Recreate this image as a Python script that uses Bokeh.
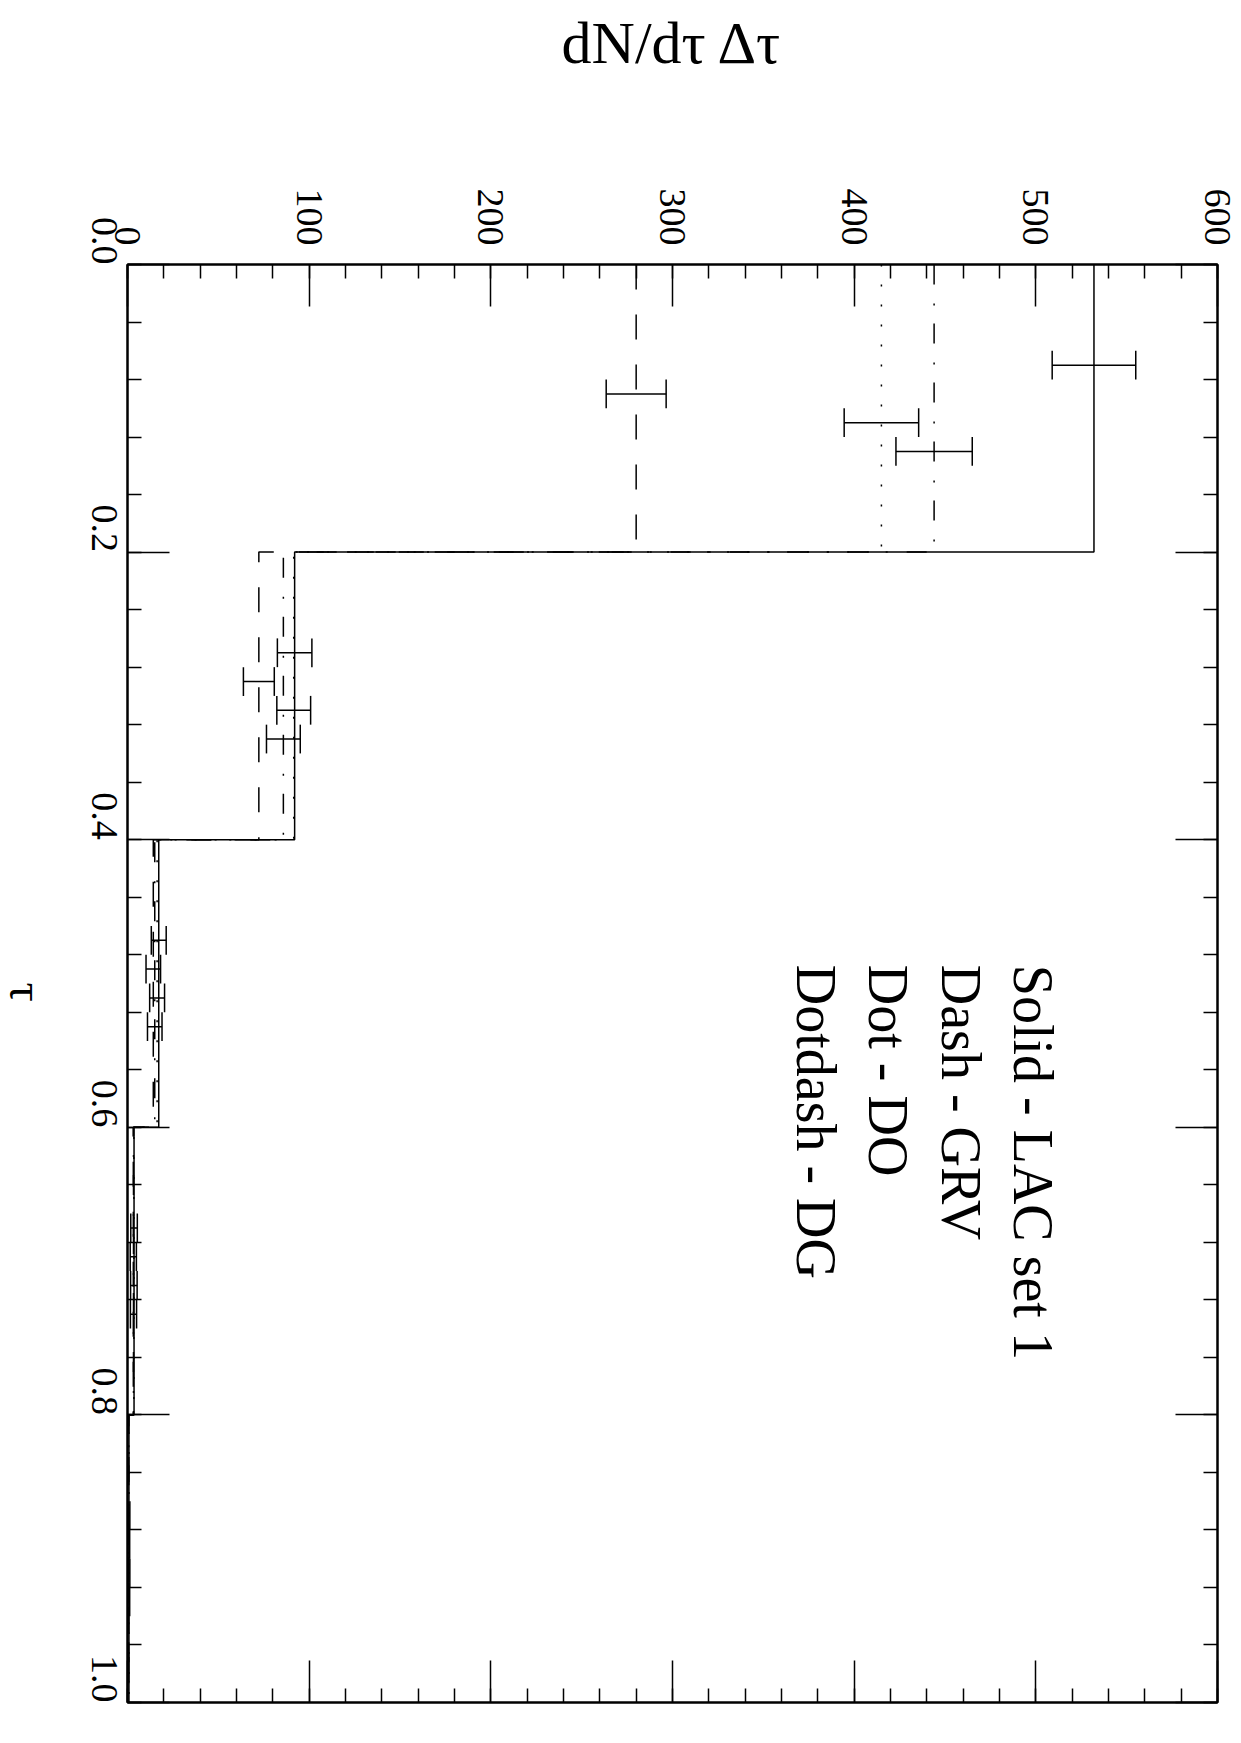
import math

from bokeh.core.properties import value
from bokeh.embed import file_html
from bokeh.layouts import row
from bokeh.models import (CustomJSTickFormatter, LinearAxis, PrintfTickFormatter,
                          Range1d, SingleIntervalTicker)
from bokeh.plotting import figure
from bokeh.resources import INLINE

# tau bins (width 0.2)
bin_edges = [0.0, 0.2, 0.4, 0.6, 0.8, 1.0]

# dN/dtau * dtau per bin for each photon structure function set
lac1 = [532.0, 92.0, 17.2, 3.6, 0.8]
grv = [280.0, 72.3, 14.2, 3.2, 0.7]
do_set = [415.0, 91.5, 16.3, 3.5, 0.8]
dg = [444.0, 85.8, 15.0, 3.3, 0.7]

# statistical errors per bin
lac1_err = [23.0, 9.5, 4.1, 1.8, 0.5]
grv_err = [16.5, 8.5, 4.0, 1.7, 0.5]
do_err = [20.5, 9.3, 4.1, 1.8, 0.5]
dg_err = [21.0, 9.3, 4.0, 1.7, 0.5]

# where inside each bin the error bar of a set is placed
err_offset = [0.07, 0.09, 0.11, 0.13]

legend_lines = ["Solid - LAC set 1", "Dash - GRV", "Dot - DO", "Dotdash - DG"]

x_ticks_interval = 100
y_ticks_interval = 0.2

FONT = "Liberation Serif"
W, H = 1241, 1743
STRIP = 60  # narrow strip on the left holding the tau axis title

p = figure(width=W - STRIP, height=H,
           x_range=Range1d(0, 600), y_range=Range1d(1.0, 0.0),
           x_axis_location="above", y_axis_location="left",
           output_backend="svg", toolbar_location=None,
           min_border_left=127 - STRIP, min_border_right=24,
           min_border_top=264, min_border_bottom=41)
p.xgrid.grid_line_color = None
p.ygrid.grid_line_color = None
p.outline_line_color = "black"
p.outline_line_width = 2
p.background_fill_color = "white"
p.border_fill_color = "white"

xticker = SingleIntervalTicker(interval=x_ticks_interval, num_minor_ticks=5)
yticker = SingleIntervalTicker(interval=y_ticks_interval, num_minor_ticks=5)
blank = CustomJSTickFormatter(code="return ''")


def style_axis(ax):
    ax.axis_line_color = "black"
    ax.axis_line_width = 2
    ax.major_tick_line_color = "black"
    ax.major_tick_line_width = 1.5
    ax.minor_tick_line_color = "black"
    ax.minor_tick_line_width = 1.5
    ax.major_tick_in = 42
    ax.major_tick_out = 0
    ax.minor_tick_in = 14
    ax.minor_tick_out = 0
    ax.major_label_text_font = FONT
    ax.major_label_text_font_size = "38px"
    ax.major_label_text_color = "black"
    ax.axis_label_text_font = FONT
    ax.axis_label_text_font_style = "normal"
    ax.axis_label_text_color = "black"


# top axis: value scale with labels and the quantity name
top = p.xaxis[0]
top.ticker = xticker
top.formatter = PrintfTickFormatter(format="%d")
style_axis(top)
top.major_label_orientation = -math.pi / 2
top.major_label_standoff = 19
top.axis_label = "dN/dτ Δτ"
top.axis_label_text_font_size = "60px"
top.axis_label_standoff = 110

# left axis: tau scale
left = p.yaxis[0]
left.ticker = yticker
left.formatter = PrintfTickFormatter(format="%.1f")
style_axis(left)
left.major_label_orientation = -math.pi / 2
left.major_label_standoff = 23

# mirrored tick marks without labels
bottom = LinearAxis(ticker=xticker, formatter=blank)
style_axis(bottom)
bottom.major_label_standoff = 0
p.add_layout(bottom, "below")

right = LinearAxis(ticker=yticker, formatter=blank)
style_axis(right)
right.major_label_standoff = 0
p.add_layout(right, "right")

series = [
    (lac1, lac1_err, "solid"),
    (grv, grv_err, "25 25"),
    (do_set, do_err, "2 18"),
    (dg, dg_err, "20 19 2 18"),
]

cap_half = 0.01
for k, (vals, errs, dash) in enumerate(series):
    # step histogram
    xs, ys = [], []
    for i, v in enumerate(vals):
        xs += [v, v]
        ys += [bin_edges[i], bin_edges[i + 1]]
    p.line(xs, ys, line_color="black", line_width=1.5, line_dash=dash)

    # error bars
    pos = [bin_edges[i] + err_offset[k] for i in range(len(vals))]
    lo = [v - e for v, e in zip(vals, errs)]
    hi = [v + e for v, e in zip(vals, errs)]
    p.segment(x0=lo, y0=pos, x1=hi, y1=pos, line_color="black", line_width=1.5)
    p.segment(x0=lo, y0=[t - cap_half for t in pos], x1=lo, y1=[t + cap_half for t in pos],
              line_color="black", line_width=1.5)
    p.segment(x0=hi, y0=[t - cap_half for t in pos], x1=hi, y1=[t + cap_half for t in pos],
              line_color="black", line_width=1.5)

# key to the line styles
legend_x = [498.6, 458.9, 418.8, 379.2]
legend_tau = [0.487] * 4
p.text(x=legend_x, y=legend_tau, text=legend_lines, angle=-math.pi / 2,
       text_font=value(FONT), text_font_size="56px",
       text_align="left", text_baseline="middle", text_color="black")

# strip with the tau axis title, turned a quarter clockwise like the tick labels
strip = figure(width=STRIP, height=H, x_range=Range1d(0, STRIP), y_range=Range1d(H, 0),
               x_axis_type=None, y_axis_type=None, output_backend="svg",
               toolbar_location=None, min_border=0)
strip.outline_line_color = None
strip.background_fill_color = "white"
strip.border_fill_color = "white"
strip.xgrid.visible = False
strip.ygrid.visible = False
strip.text(x=[26], y=[882], text=["τ"], angle=-math.pi / 2,
           text_font=value(FONT), text_font_size="48px",
           text_align="center", text_baseline="middle", text_color="black")

layout = row(strip, p, spacing=0)
open("out.html", "w").write(file_html(layout, INLINE))
